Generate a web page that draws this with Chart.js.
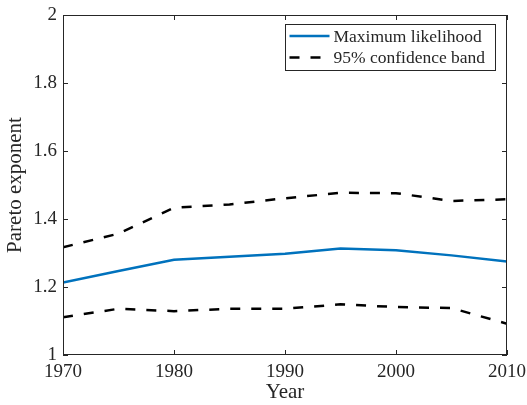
<!DOCTYPE html>
<html>
<head>
<meta charset="utf-8">
<script src="https://cdn.jsdelivr.net/npm/chart.js@4.4.1/dist/chart.umd.min.js"></script>
<style>
  html, body { margin: 0; padding: 0; background: #fff; }
  #wrap { width: 527px; height: 405px; }
</style>
</head>
<body>
<div id="wrap"><canvas id="grafico"></canvas></div>
<script>
// Dados
const anos = [1970, 1975, 1980, 1985, 1990, 1995, 2000, 2005, 2010];
const maxVerossimilhanca = [1.213, 1.247, 1.280, 1.289, 1.298, 1.313, 1.308, 1.293, 1.275];
const bandaSuperior = [1.317, 1.357, 1.433, 1.443, 1.461, 1.477, 1.476, 1.453, 1.458];
const bandaInferior = [1.111, 1.136, 1.129, 1.136, 1.136, 1.149, 1.141, 1.138, 1.092];
const xTickLabels = ['1970', '1980', '1990', '2000', '2010'];
const yTickLabels = ['1', '1.2', '1.4', '1.6', '1.8', '2'];

const corTexto = '#262626';
const fonte = 'Liberation Serif';

function pontos(valores) {
    return anos.map((ano, i) => ({ x: ano, y: valores[i] }));
}

// Caixa do eixo com marcas para dentro (estilo MATLAB)
const caixaPlugin = {
    id: 'caixa',
    afterDatasetsDraw(chart) {
        const { ctx, chartArea: a, scales } = chart;
        ctx.save();
        ctx.strokeStyle = corTexto;
        ctx.lineWidth = 1;
        ctx.strokeRect(a.left + 0.5, a.top + 0.5, a.right - a.left - 1, a.bottom - a.top - 1);
        const tam = 5;
        ctx.beginPath();
        scales.x.ticks.forEach(t => {
            const px = Math.round(scales.x.getPixelForValue(t.value)) + 0.5;
            ctx.moveTo(px, a.bottom); ctx.lineTo(px, a.bottom - tam);
            ctx.moveTo(px, a.top); ctx.lineTo(px, a.top + tam);
        });
        scales.y.ticks.forEach(t => {
            const py = Math.round(scales.y.getPixelForValue(t.value)) + 0.5;
            ctx.moveTo(a.left, py); ctx.lineTo(a.left + tam, py);
            ctx.moveTo(a.right, py); ctx.lineTo(a.right - tam, py);
        });
        ctx.stroke();
        ctx.restore();
    },
    afterDraw(chart) {
        // Legenda dentro da área do gráfico
        const { ctx, chartArea: a } = chart;
        const itens = [chart.data.datasets[0], chart.data.datasets[1]];
        const x0 = a.right - 221.5, y0 = a.top + 9.5, w = 210, h = 46;
        ctx.save();
        ctx.fillStyle = '#fff';
        ctx.fillRect(x0, y0, w, h);
        ctx.strokeStyle = corTexto;
        ctx.lineWidth = 1;
        ctx.strokeRect(x0, y0, w, h);
        ctx.font = '17.5px "' + fonte + '"';
        ctx.textBaseline = 'middle';
        itens.forEach((ds, i) => {
            const y = y0 + 11.5 + i * 21.5;
            ctx.beginPath();
            ctx.strokeStyle = ds.borderColor;
            ctx.lineWidth = ds.borderWidth;
            ctx.setLineDash(ds.borderDash || []);
            ctx.moveTo(x0 + 4, y);
            ctx.lineTo(x0 + 44, y);
            ctx.stroke();
            ctx.setLineDash([]);
            ctx.fillStyle = corTexto;
            ctx.fillText(ds.label, x0 + 48, y + 1);
        });
        ctx.restore();
    }
};

document.addEventListener('DOMContentLoaded', () => {
    const canvas = document.getElementById('grafico');
    new Chart(canvas, {
        type: 'line',
        data: {
            datasets: [
                {
                    label: 'Maximum likelihood',
                    data: pontos(maxVerossimilhanca),
                    borderColor: '#0072BD',
                    borderWidth: 2.5,
                    pointRadius: 0,
                    tension: 0
                },
                {
                    label: '95% confidence band',
                    data: pontos(bandaSuperior),
                    borderColor: '#000000',
                    borderWidth: 2.5,
                    borderDash: [10, 11],
                    pointRadius: 0,
                    tension: 0
                },
                {
                    label: '95% confidence band (inferior)',
                    data: pontos(bandaInferior),
                    borderColor: '#000000',
                    borderWidth: 2.5,
                    borderDash: [10, 11],
                    pointRadius: 0,
                    tension: 0
                }
            ]
        },
        options: {
            responsive: true,
            maintainAspectRatio: false,
            animation: false,
            layout: { padding: { left: 0, right: 20, top: 15, bottom: 0 } },
            plugins: {
                legend: { display: false },
                tooltip: { enabled: false }
            },
            scales: {
                x: {
                    type: 'linear',
                    min: 1970,
                    max: 2010,
                    grid: { display: false, drawTicks: false },
                    border: { display: false },
                    ticks: {
                        stepSize: 10,
                        padding: 6,
                        color: corTexto,
                        maxRotation: 0,
                        font: { family: fonte, size: 19 },
                        callback: (v, i) => xTickLabels[i]
                    },
                    title: {
                        display: true,
                        text: 'Year',
                        color: corTexto,
                        padding: { top: 0, bottom: 0 },
                        font: { family: fonte, size: 21 }
                    },
                    afterFit: (scale) => {
                        scale.height = 50;
                        scale.paddingLeft = 0;
                        scale.paddingRight = 0;
                    }
                },
                y: {
                    min: 1,
                    max: 2,
                    grid: { display: false, drawTicks: false },
                    border: { display: false },
                    ticks: {
                        stepSize: 0.2,
                        padding: 6,
                        color: corTexto,
                        font: { family: fonte, size: 19 },
                        callback: (v, i) => yTickLabels[i]
                    },
                    title: {
                        display: true,
                        text: 'Pareto exponent',
                        color: corTexto,
                        padding: { top: 3, bottom: 0 },
                        font: { family: fonte, size: 21 }
                    },
                    afterFit: (scale) => {
                        scale.width = 63;
                        scale.paddingTop = 0;
                        scale.paddingBottom = 0;
                    }
                }
            }
        },
        plugins: [caixaPlugin]
    });
});
</script>
</body>
</html>
